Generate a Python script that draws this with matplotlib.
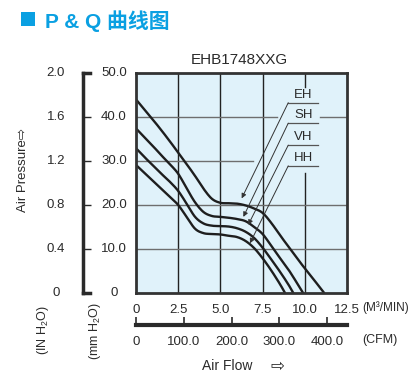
import numpy as np
import matplotlib
matplotlib.use("Agg")
import matplotlib.pyplot as plt
from matplotlib.patches import Rectangle

plt.rcParams['font.family'] = ['Liberation Sans', 'DejaVu Sans']
plt.rcParams['mathtext.fontset'] = 'custom'
plt.rcParams['mathtext.rm'] = 'Liberation Sans'

# Curvas P-Q (caudal en M3/MIN, presión en mmH2O)
eh_q = [0, 0.5, 1.0, 1.5, 2.0, 2.5, 3.0, 3.5, 4.0, 4.5, 5.0, 5.5, 6.0, 6.5, 7.0, 7.5, 8.0, 8.5, 9.0, 9.5, 10.0, 10.5, 11.15]
eh_p = [44.0, 41.7, 39.4, 37.0, 34.5, 31.9, 29.3, 26.6, 23.7, 21.4, 20.5, 20.4, 20.3, 19.9, 19.2, 18.2, 16.0, 13.3, 10.7, 8.1, 5.6, 3.2, 0]

sh_q = [0, 0.5, 1.0, 1.5, 2.0, 2.5, 3.0, 3.5, 4.0, 4.5, 5.0, 5.5, 6.0, 6.5, 7.0, 7.5, 8.0, 8.5, 9.0, 9.5, 9.9]
sh_p = [37.4, 35.4, 33.4, 31.3, 29.3, 27.1, 23.8, 20.6, 18.4, 17.5, 17.3, 17.1, 16.8, 16.3, 15.0, 13.4, 10.8, 8.1, 5.5, 2.5, 0]

vh_q = [0, 0.5, 1.0, 1.5, 2.0, 2.5, 3.0, 3.5, 4.0, 4.5, 5.0, 5.5, 6.0, 6.5, 7.0, 7.5, 8.0, 8.5, 9.0, 9.32]
vh_p = [32.9, 30.9, 29.0, 27.1, 25.3, 23.2, 20.3, 17.3, 15.8, 15.3, 15.2, 15.1, 14.7, 13.9, 12.5, 10.3, 7.7, 5.0, 2.1, 0]

hh_q = [0, 0.5, 1.0, 1.5, 2.0, 2.5, 3.0, 3.5, 4.0, 4.5, 5.0, 5.5, 6.0, 6.5, 7.0, 7.5, 8.0, 8.5, 8.83]
hh_p = [29.1, 27.3, 25.5, 23.7, 21.9, 20.0, 17.3, 14.6, 13.6, 13.4, 13.3, 13.0, 12.7, 11.8, 10.2, 7.9, 5.2, 2.2, 0]

nombres = ['EH', 'SH', 'VH', 'HH']
# inicio de la línea guía (bajo la etiqueta) y punta de la flecha
guia_inicio = [(9.02, 43.25), (9.02, 38.6), (9.02, 33.6), (9.02, 28.9)]
guia_punta = [(6.26, 21.5), (6.36, 17.3), (6.65, 15.5), (6.75, 11.3)]

q_ticks = [0, 2.5, 5.0, 7.5, 10.0, 12.5]
q_labels = ['0', '2.5', '5.0', '7.5', '10.0', '12.5']
cfm_ticks = [0, 100, 200, 300, 400]
cfm_labels = ['0', '100.0', '200.0', '300.0', '400.0']
mm_ticks = [0, 10, 20, 30, 40, 50]
mm_labels = ['0', '10.0', '20.0', '30.0', '40.0', '50.0']
in_labels = ['0', '0.4', '0.8', '1.2', '1.6', '2.0']

W, H = 414, 378
AZUL = '#0aa0e2'
OSCURO = '#2a2a2a'


def suavizar(x, y, n=10):
    """Catmull-Rom sencillo para que las curvas no se vean quebradas."""
    x = np.asarray(x, float)
    y = np.asarray(y, float)
    px = np.concatenate([[2 * x[0] - x[1]], x, [2 * x[-1] - x[-2]]])
    py = np.concatenate([[2 * y[0] - y[1]], y, [2 * y[-1] - y[-2]]])
    xs, ys = [], []
    t = np.linspace(0, 1, n, endpoint=False)
    for i in range(1, len(px) - 2):
        for arr, out in ((px, xs), (py, ys)):
            p0, p1, p2, p3 = arr[i - 1], arr[i], arr[i + 1], arr[i + 2]
            out.extend(0.5 * ((2 * p1) + (-p0 + p2) * t + (2 * p0 - 5 * p1 + 4 * p2 - p3) * t ** 2
                              + (-p0 + 3 * p1 - 3 * p2 + p3) * t ** 3))
    xs.append(x[-1])
    ys.append(y[-1])
    return xs, ys


fig = plt.figure(figsize=(W / 100, H / 100), dpi=100)

# Cabecera
fig.patches.append(Rectangle((21 / W, 1 - 26 / H), 14 / W, 14 / H, transform=fig.transFigure,
                             facecolor=AZUL, edgecolor='none'))
fig.text(45 / W, 1 - 21 / H, 'P & Q 曲线图', family=['Liberation Sans', 'Noto Sans CJK SC'],
         weight='bold', fontsize=15, color=AZUL, ha='left', va='center')
fig.text(239 / W, 1 - 60 / H, 'EHB1748XXG', fontsize=11, color=OSCURO, ha='center', va='center')

# Gráfico principal
ax = fig.add_axes([136 / W, 1 - 293 / H, 211 / W, 220 / H])
ax.set_facecolor('#e0f2fa')
ax.set_xlim(0, 12.5)
ax.set_ylim(0, 50)
for s in ax.spines.values():
    s.set_linewidth(2.0)
    s.set_color('#333333')
    s.set_zorder(5)

# rejilla (con huecos donde van las etiquetas)
for xv in [2.5, 5.0, 7.5]:
    ax.plot([xv, xv], [0, 50], color='#222222', lw=1.0, zorder=1)
ax.plot([10, 10], [0, 27.3], color='#222222', lw=1.0, zorder=1)
ax.plot([10, 10], [46.8, 50], color='#222222', lw=1.0, zorder=1)
for yv in [10, 20]:
    ax.plot([0, 12.5], [yv, yv], color='#6e6e6e', lw=1.0, zorder=1)
ax.plot([0, 6.93], [30, 30], color='#6e6e6e', lw=1.0, zorder=1)
ax.plot([0, 8.35], [40, 40], color='#6e6e6e', lw=1.0, zorder=1)
ax.plot([10.9, 12.5], [40, 40], color='#6e6e6e', lw=1.0, zorder=1)

for q, p in [(eh_q, eh_p), (sh_q, sh_p), (vh_q, vh_p), (hh_q, hh_p)]:
    xs, ys = suavizar(q, p)
    ax.plot(xs, ys, color='#1e1e1e', lw=1.7, solid_capstyle='round', zorder=3, clip_on=True)

for nombre, ini, fin in zip(nombres, guia_inicio, guia_punta):
    ax.plot([ini[0], 10.8], [ini[1], ini[1]], color='#555555', lw=0.9, zorder=4)
    ax.text(9.92, ini[1] + 0.4, nombre, fontsize=9.5, color=OSCURO, ha='center', va='bottom', zorder=4)
    ax.annotate('', xy=fin, xytext=ini,
                arrowprops=dict(arrowstyle='-|>', lw=0.7, color='#333333', mutation_scale=7,
                                shrinkA=0, shrinkB=0), zorder=4)

ax.set_xticks(q_ticks)
ax.set_xticklabels(q_labels)
ax.set_yticks([])
ax.tick_params(axis='x', length=0, pad=8, labelsize=9.5, labelcolor=OSCURO)
ax.text(1 + 15 / 211, -15 / 220, '(M³/MIN)', transform=ax.transAxes, fontsize=8.5,
        color=OSCURO, ha='left', va='center')

# Eje de presión en mm H2O (corchete a la izquierda)
ax_mm = fig.add_axes([83 / W, 1 - 293 / H, 53 / W, 220 / H])
ax_mm.set_ylim(0, 50)
ax_mm.set_xlim(0, 1)
ax_mm.patch.set_visible(False)
for lado in ['top', 'right', 'bottom']:
    ax_mm.spines[lado].set_visible(False)
ax_mm.spines['left'].set_linewidth(2.5)
ax_mm.spines['left'].set_color(OSCURO)
ax_mm.set_xticks([])
ax_mm.set_yticks(mm_ticks[1:-1])
ax_mm.tick_params(axis='y', direction='in', length=6, width=1.0, color=OSCURO, labelleft=False)
for yv in [mm_ticks[0], mm_ticks[-1]]:
    ax_mm.plot([0, 7 / 53], [yv, yv], color=OSCURO, lw=2.5, solid_capstyle='projecting', clip_on=False)
tr = ax_mm.get_yaxis_transform()
for yv, lab_mm, lab_in in zip(mm_ticks, mm_labels, in_labels):
    ax_mm.text(31 / 53, yv, lab_mm, transform=tr, fontsize=9.5, color=OSCURO, ha='center', va='center')
    ax_mm.text(-27 / 53, yv, lab_in, transform=tr, fontsize=9.5, color=OSCURO, ha='center', va='center')

fig.text(23 / W, 1 - 170 / H, 'Air Pressure⇨', rotation=90, fontsize=9.5, color=OSCURO,
         ha='center', va='center', family=['Liberation Sans', 'DejaVu Sans'])
fig.text(43 / W, 1 - 330 / H, r'(IN H$_2$O)', rotation=90, fontsize=9, color=OSCURO,
         ha='center', va='center')
fig.text(95 / W, 1 - 331 / H, r'(mm H$_2$O)', rotation=90, fontsize=9, color=OSCURO,
         ha='center', va='center')

# Eje de caudal en CFM
ax_cfm = fig.add_axes([136 / W, 1 - 325 / H, 211 / W, 0.001])
ax_cfm.set_xlim(0, 12.5 * 35.31)
ax_cfm.patch.set_visible(False)
for lado in ['top', 'right', 'left']:
    ax_cfm.spines[lado].set_visible(False)
ax_cfm.spines['bottom'].set_linewidth(3)
ax_cfm.spines['bottom'].set_color(OSCURO)
ax_cfm.set_yticks([])
ax_cfm.set_xticks(cfm_ticks)
ax_cfm.set_xticklabels(cfm_labels)
ax_cfm.tick_params(axis='x', direction='in', length=6, width=1.2, color=OSCURO, pad=8,
                   labelsize=9.5, labelcolor=OSCURO)
fig.text(380 / W, 1 - 340 / H, '(CFM)', fontsize=9, color=OSCURO, ha='center', va='center')
fig.text(227 / W, 1 - 366 / H, 'Air Flow', fontsize=10, color=OSCURO, ha='center', va='center')
fig.text(277 / W, 1 - 366 / H, '⇨', fontsize=12, color=OSCURO, ha='center', va='center',
         family=['DejaVu Sans'])

fig.savefig('out.png', dpi=100)
